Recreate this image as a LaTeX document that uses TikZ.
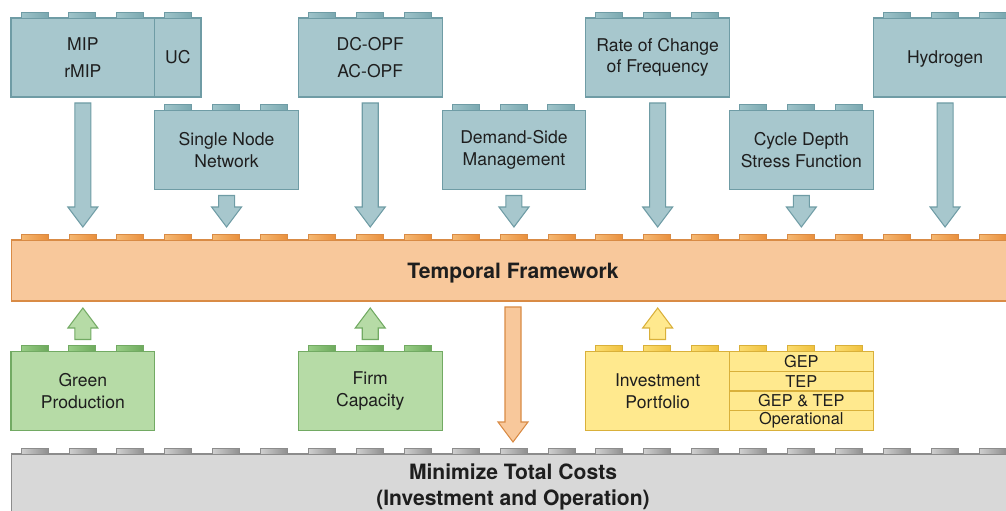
\documentclass[tikz,border=0pt]{standalone}
\usepackage{fontspec}
\setmainfont{TeX Gyre Heros}
\usetikzlibrary{positioning,calc}

\definecolor{tealfill}{HTML}{A7C7CD}
\definecolor{tealline}{HTML}{6F9CA5}
\definecolor{tealstudL}{HTML}{9EC3C9}
\definecolor{tealstudR}{HTML}{7AA8B0}
\definecolor{orangefill}{HTML}{F8C89B}
\definecolor{orangeline}{HTML}{D98B45}
\definecolor{orangestudL}{HTML}{F5B872}
\definecolor{orangestudR}{HTML}{E98F3C}
\definecolor{greenfill}{HTML}{B6DBA6}
\definecolor{greenline}{HTML}{72AA63}
\definecolor{greenstudL}{HTML}{98CD86}
\definecolor{greenstudR}{HTML}{6DA95C}
\definecolor{yellowfill}{HTML}{FFE98E}
\definecolor{yellowline}{HTML}{D9B03A}
\definecolor{yellowstudL}{HTML}{FBDC6E}
\definecolor{yellowstudR}{HTML}{EFC03E}
\definecolor{greyfill}{HTML}{D8D8D8}
\definecolor{greyline}{HTML}{8C8C8C}
\definecolor{greystudL}{HTML}{CFCFCF}
\definecolor{greystudR}{HTML}{8E8E8E}
\definecolor{ink}{HTML}{1E1E1E}

% row of studs on top of a brick
\newcommand{\studs}[3]{%
  \foreach \k in {1,...,#2}
    \draw[#3] ($(#1.north west)+({10+47.9*(\k-1)},0)$) rectangle ++(27,-6);
}

% fat vertical arrow: style, tail, tip, signed head length
\newcommand{\blockarrow}[4]{%
  \coordinate (tail) at (#2);
  \coordinate (tipy) at (#3);
  \coordinate (tip) at (tail|-tipy);
  \draw[#1] ($(tail)+(-8,0)$) -- ($(tip)+(-8,#4)$) -- ($(tip)+(-15,#4)$) -- (tip)
    -- ($(tip)+(15,#4)$) -- ($(tip)+(8,#4)$) -- ($(tail)+(8,0)$) -- cycle;
}

\begin{document}
\begin{tikzpicture}[
  x=0.02cm, y=-0.02cm,
  brick/.style={rectangle, draw, line width=0.6pt, inner sep=0pt, outer sep=0pt,
    minimum width=2.874cm, minimum height=1.58cm, align=center, text=ink,
    font=\fontsize{10}{12.3}\selectfont},
  tealbrick/.style={brick, fill=tealfill, draw=tealline},
  greenbrick/.style={brick, fill=greenfill, draw=greenline},
  yellowbrick/.style={brick, fill=yellowfill, draw=yellowline},
  yellowrow/.style={yellowbrick, minimum height=0.395cm, font=\fontsize{9.3}{10}\selectfont},
  bar/.style={brick, minimum width=20.08cm, font=\fontsize{12}{14.8}\selectfont\bfseries},
  tealstud/.style={draw=tealline, line width=0.5pt, left color=tealstudL, right color=tealstudR},
  orangestud/.style={draw=orangeline, line width=0.5pt, left color=orangestudL, right color=orangestudR},
  greenstud/.style={draw=greenline, line width=0.5pt, left color=greenstudL, right color=greenstudR},
  yellowstud/.style={draw=yellowline, line width=0.5pt, left color=yellowstudL, right color=yellowstudR},
  greystud/.style={draw=greyline, line width=0.5pt, left color=greystudL, right color=greystudR},
  tealarrow/.style={fill=tealfill, draw=tealline, line width=0.6pt},
  orangearrow/.style={fill=orangefill, draw=orangeline, line width=0.6pt},
  greenarrow/.style={fill=greenfill, draw=greenline, line width=0.6pt},
  yellowarrow/.style={fill=yellowfill, draw=yellowline, line width=0.6pt}
]
\useasboundingbox (0,0) rectangle (1006,510);
\clip (0,0) rectangle (1006,510);

% top row
\node[tealbrick] (mip) at (82.85,57.5) {MIP\\[3.4pt]rMIP};
\node[tealbrick, minimum width=0.926cm, right=0pt of mip] (uc) {UC};
\node[tealbrick] (opf) at (370.25,57.5) {DC-OPF\\[3.4pt]AC-OPF};
\node[tealbrick] (rocof) at (657.65,57.5) {Rate of Change\\of Frequency};
\node[tealbrick, text depth=0pt] (hydrogen) at (945.05,57.5) {Hydrogen};

% second row
\node[tealbrick] (network) at (226.55,150) {Single Node\\Network};
\node[tealbrick] (dsm) at (513.95,150) {Demand-Side\\Management};
\node[tealbrick] (cycle) at (801.35,150) {Cycle Depth\\Stress Function};

% base plates
\node[bar, fill=orangefill, draw=orangeline, minimum height=1.22cm, text depth=0pt] (temporal) at (513,270.5) {Temporal Framework};
\node[bar, fill=greyfill, draw=greyline, minimum height=1.32cm] (costs) at (513,487) {Minimize Total Costs\\(Investment and Operation)};

% bottom row
\node[greenbrick] (green) at (82.85,391) {Green\\Production};
\node[greenbrick] (firm) at (370.25,391) {Firm\\Capacity};
\node[yellowbrick] (invest) at (657.65,391) {Investment\\Portfolio};
\node[yellowrow, anchor=north west] (gep) at (invest.north east) {GEP};
\node[yellowrow, below=0pt of gep] (tep) {TEP};
\node[yellowrow, below=0pt of tep] (geptep) {GEP \& TEP};
\node[yellowrow, below=0pt of geptep] (oper) {Operational};

% studs
\studs{mip}{3}{tealstud}
\studs{uc}{1}{tealstud}
\studs{opf}{3}{tealstud}
\studs{rocof}{3}{tealstud}
\studs{hydrogen}{3}{tealstud}
\studs{network}{3}{tealstud}
\studs{dsm}{3}{tealstud}
\studs{cycle}{3}{tealstud}
\studs{temporal}{21}{orangestud}
\studs{costs}{21}{greystud}
\studs{green}{3}{greenstud}
\studs{firm}{3}{greenstud}
\studs{invest}{3}{yellowstud}
\studs{gep}{3}{yellowstud}

% arrows into the framework
\blockarrow{tealarrow}{$(mip.south)+(0,6)$}{$(temporal.north)+(0,-13)$}{-20}
\blockarrow{tealarrow}{$(network.south)+(0,6)$}{$(temporal.north)+(0,-13)$}{-20}
\blockarrow{tealarrow}{$(opf.south)+(0,6)$}{$(temporal.north)+(0,-13)$}{-20}
\blockarrow{tealarrow}{$(dsm.south)+(0,6)$}{$(temporal.north)+(0,-13)$}{-20}
\blockarrow{tealarrow}{$(rocof.south)+(0,6)$}{$(temporal.north)+(0,-13)$}{-20}
\blockarrow{tealarrow}{$(cycle.south)+(0,6)$}{$(temporal.north)+(0,-13)$}{-20}
\blockarrow{tealarrow}{$(hydrogen.south)+(0,6)$}{$(temporal.north)+(0,-13)$}{-20}
\blockarrow{greenarrow}{$(green.north)+(0,-12)$}{$(temporal.south)+(0,7)$}{20}
\blockarrow{greenarrow}{$(firm.north)+(0,-12)$}{$(temporal.south)+(0,7)$}{20}
\blockarrow{yellowarrow}{$(invest.north)+(0,-12)$}{$(temporal.south)+(0,7)$}{20}
\blockarrow{orangearrow}{$(temporal.south)+(0,6)$}{$(costs.north)+(0,-12)$}{-20}
\end{tikzpicture}
\end{document}
